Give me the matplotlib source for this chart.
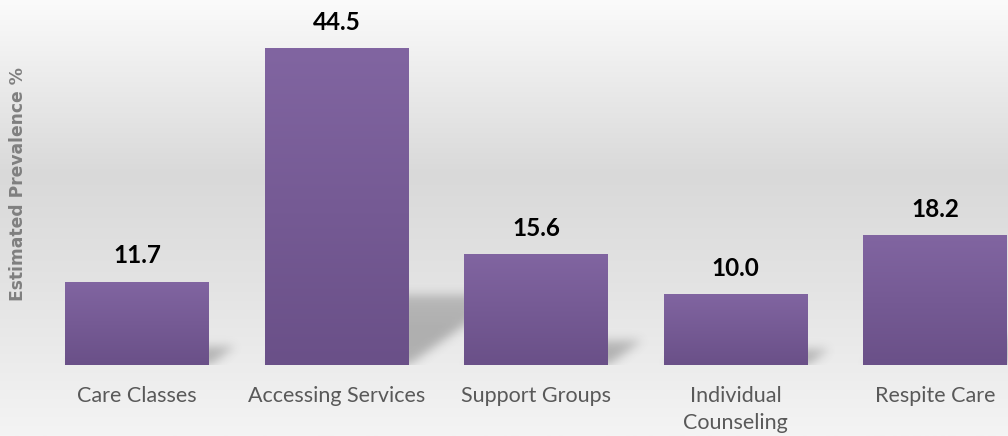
import numpy as np
import matplotlib.pyplot as plt
from matplotlib.path import Path
from matplotlib.colors import LinearSegmentedColormap

# data
categories = ['Care Classes', 'Accessing Services', 'Support Groups',
              'Individual\nCounseling', 'Respite Care']
values = [11.7, 44.5, 15.6, 10.0, 18.2]

plt.rcParams['font.family'] = ['Lato', 'DejaVu Sans']

fig = plt.figure(figsize=(10.08, 4.36), dpi=100)

# background gradient over whole figure
bg = fig.add_axes([0, 0, 1, 1], zorder=-10)
bg_cmap = LinearSegmentedColormap.from_list(
    'bg', [(0, '#f4f4f4'), (0.35, '#e3e3e3'), (0.6, '#d9d9d9'), (1.0, '#fbfbfb')])
bg.imshow(np.linspace(0, 1, 256).reshape(-1, 1), aspect='auto', cmap=bg_cmap,
          origin='lower', extent=[0, 1, 0, 1])
bg.axis('off')

ax = fig.add_axes([37.5 / 1008, 71 / 436, 1 - 37.5 / 1008, 356 / 436])
ax.patch.set_alpha(0)
x = np.arange(len(categories))
width = 0.72
xmin, xmax = -0.5, (1008 - 137) / 199.5
ymin, ymax = 0, 50
bars = ax.bar(x, values, width=width, color='none', zorder=3)

# soft floor shadows: sheared copies of the bars, blurred
nx, ny = 1000, 360
gx = np.linspace(xmin, xmax, nx)
gy = np.linspace(ymin, ymax, ny)
GX, GY = np.meshgrid(gx, gy)
pts = np.column_stack([GX.ravel(), GY.ravel()])
mask = np.zeros(GX.shape)
for b, v in zip(bars, values):
    xl, xr = b.get_x(), b.get_x() + b.get_width()
    k = 0.22 * v
    s = 0.011 * v
    p = Path([(xl, 0), (xr, 0), (xr + s, k), (xl + s, k), (xl, 0)])
    m = p.contains_points(pts).reshape(GX.shape).astype(float)
    # darker near the floor
    m *= np.clip(1.2 - 0.4 * GY / max(k, 1e-6), 0, 1)
    mask = np.maximum(mask, m)


def blur(a, sigma):
    r = int(3 * sigma)
    t = np.arange(-r, r + 1)
    kern = np.exp(-t ** 2 / (2 * sigma ** 2))
    kern /= kern.sum()
    a = np.apply_along_axis(lambda row: np.convolve(row, kern, mode='same'), 1, a)
    a = np.apply_along_axis(lambda col: np.convolve(col, kern, mode='same'), 0, a)
    return a


mask = blur(mask, 5)
shadow = np.zeros((ny, nx, 4))
shadow[..., :3] = 0.25
shadow[..., 3] = mask * 0.34
ax.imshow(shadow, origin='lower', extent=[xmin, xmax, ymin, ymax],
          aspect='auto', zorder=1, interpolation='bilinear')

bar_cmap = LinearSegmentedColormap.from_list('bar', ['#6a5088', '#8165a1'])
grad = np.linspace(0, 1, 256).reshape(-1, 1)
for b, v in zip(bars, values):
    xl, xr = b.get_x(), b.get_x() + b.get_width()
    im = ax.imshow(grad, aspect='auto', cmap=bar_cmap, origin='lower',
                   extent=[xl, xr, 0, v], zorder=3)
    im.set_clip_path(b)
    ax.text(b.get_x() + b.get_width() / 2, v + 2.0, f'{v:.1f}', ha='center',
            va='bottom', fontsize=17.5, fontweight='bold', color='#000000')

ax.set_xlim(xmin, xmax)
ax.set_ylim(ymin, ymax)
ax.set_xticks(x)
ax.set_xticklabels(categories, fontsize=15.5, color='#595959', linespacing=1.45)
ax.tick_params(axis='x', length=0, pad=15)
ax.set_yticks([])
for sp in ax.spines.values():
    sp.set_visible(False)

fig.text(18 / 1008, 1 - 184 / 436, 'Estimated Prevalence %', rotation=90,
         ha='center', va='center', fontsize=12.3, fontweight='bold',
         color='#7f7f7f', family='DejaVu Sans')

fig.savefig('out.png', dpi=100)
